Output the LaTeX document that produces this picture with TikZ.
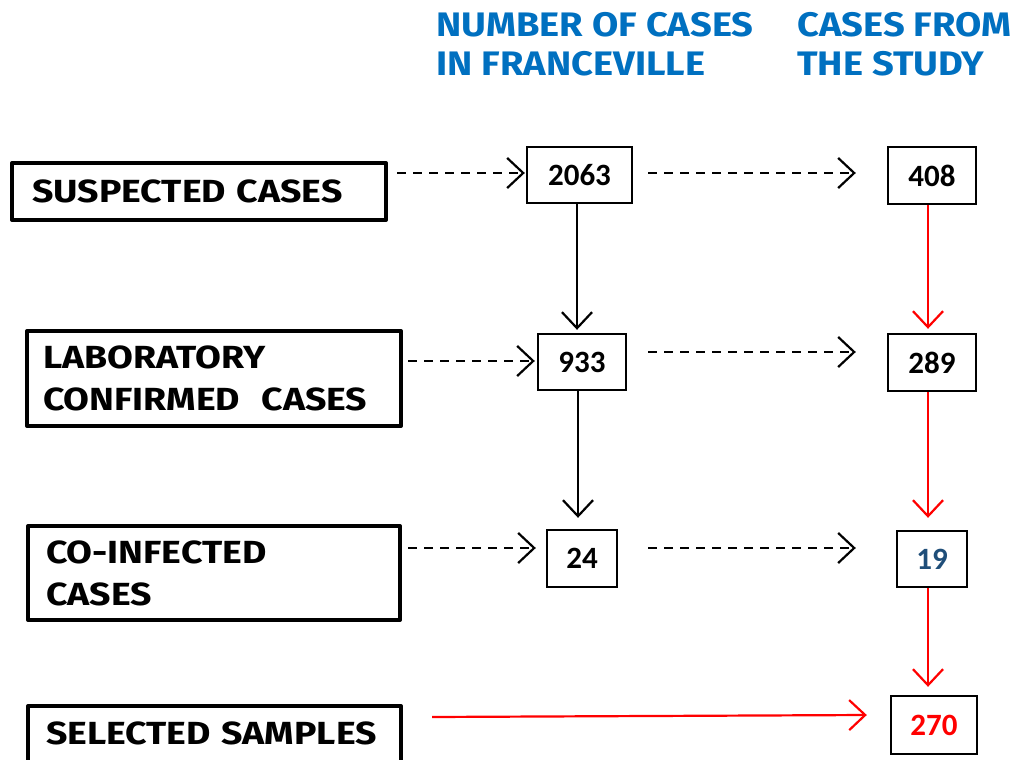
\documentclass[tikz,border=0pt]{standalone}
\usepackage{fontspec}
\setmainfont{Fira Sans}
\newfontfamily\comic{Fira Sans}[FakeStretch=1.17]
\newfontfamily\comich{Fira Sans}[FakeStretch=1.12]
\newfontfamily\numfont{Carlito}
\usetikzlibrary{arrows.meta,calc}
\definecolor{hblue}{HTML}{0070C0}
\definecolor{nblue}{HTML}{1F4E79}
\definecolor{nred}{HTML}{FF0000}
\begin{document}
\begin{tikzpicture}[x=1pt,y=-1pt,
  lbl/.style={draw, line width=4pt, line join=round, align=left,
    font=\comic\bfseries\fontsize{32}{42}\selectfont, inner ysep=0pt},
  num/.style={draw, line width=2.4pt, inner sep=0pt,
    font=\numfont\bfseries\fontsize{31}{36}\selectfont},
  hdr/.style={text=hblue, anchor=base west, inner sep=0pt,
    font=\comich\bfseries\fontsize{34}{40}\selectfont},
  tip/.style={-{Straight Barb[length=16pt,width=30pt,line width=2.2pt]}},
  darr/.style={tip, line width=2.5pt, dash pattern=on 9pt off 7pt},
  sarr/.style={tip, line width=2.2pt},
  rarr/.style={tip, line width=2.2pt, draw=nred}]
\useasboundingbox (0,0) rectangle (1012,760);
\clip (0,0) rectangle (1012,760);
\fill[white] (0,0) rectangle (1012,760);

% headers
\node[hdr] (h1a) at (436,37) {NUMBER OF CASES};
\node[hdr] (h1b) at (436,76) {IN FRANCEVILLE};
\node[hdr] (h2a) at (797,37) {CASES FROM};
\node[hdr] (h2b) at (797,76) {THE STUDY};

% left label boxes
\node[lbl, minimum height=57pt, text width=334pt, inner xsep=20pt] (sus) at (199,191.5) {\mbox{SUSPECTED CASES}};
\node[lbl, minimum height=95pt, text width=342pt, inner xsep=16pt] (lab) at (214,378.5) {\mbox{LABORATORY}\\\mbox{CONFIRMED\ \ CASES}};
\node[lbl, minimum height=94pt, text width=336pt, inner xsep=18pt] (coi) at (214,573) {\mbox{CO-INFECTED}\\\mbox{CASES}};
\node[lbl, anchor=north, text width=337pt, inner xsep=18pt, text height=38pt, text depth=60pt] (sel) at (214.5,704) {\mbox{SELECTED SAMPLES}};

% number boxes
\node[num, minimum width=105pt, minimum height=56pt] (n2063) at (579.5,175) {2063};
\node[num, minimum width=88pt, minimum height=56pt] (n933) at (582,362) {933};
\node[num, minimum width=70pt, minimum height=57pt] (n24) at (582,558.5) {24};
\node[num, minimum width=88pt, minimum height=57pt] (n408) at (932,175.5) {408};
\node[num, minimum width=88pt, minimum height=57pt] (n289) at (932,362.5) {289};
\node[num, minimum width=70pt, minimum height=56pt, text=nblue] (n19) at (932,559) {19};
\node[num, minimum width=86pt, minimum height=58pt, text=nred] (n270) at (934,725) {270};

% dashed horizontal arrows
\draw[darr] ($(sus.east |- n2063.west)+(9,-2)$) -- ($(n2063.west)+(-1,-2)$);
\draw[darr] ($(n2063.east)+(15,-2)$) -- ($(n408.west)+(-31,-2.5)$);
\draw[darr] ($(lab.east |- n933.west)+(5,-1)$) -- ($(n933.west)+(-2,-1)$);
\draw[darr] ($(n933.east)+(21,-10)$) -- ($(n289.west)+(-31,-10.5)$);
\draw[darr] ($(coi.east |- n24.west)+(6,-10.5)$) -- ($(n24.west)+(-10,-10.5)$);
\draw[darr] ($(n24.east)+(30,-10.5)$) -- ($(n19.west)+(-40,-11)$);

% solid black vertical arrows
\draw[sarr] ($(n2063.south)+(-2.5,0)$) -- ($(n2063.south |- n933.north)+(-2.5,-3)$);
\draw[sarr] ($(n933.south)+(-4,0)$) -- ($(n933.south |- n24.north)+(-4,-11)$);

% red arrows
\draw[rarr] ($(n408.south)+(-4,0)$) -- ($(n408.south |- n289.north)+(-4,-4)$);
\draw[rarr] ($(n289.south)+(-4,0)$) -- ($(n289.south |- n19.north)+(-4,-12)$);
\draw[rarr] ($(n19.south)+(-4,0)$) -- ($(n19.south |- n270.north)+(-4,-8)$);
\draw[rarr] ($(sel.east |- n270.west)+(29,-8)$) -- ($(n270.west)+(-23,-10)$);
\end{tikzpicture}
\end{document}
